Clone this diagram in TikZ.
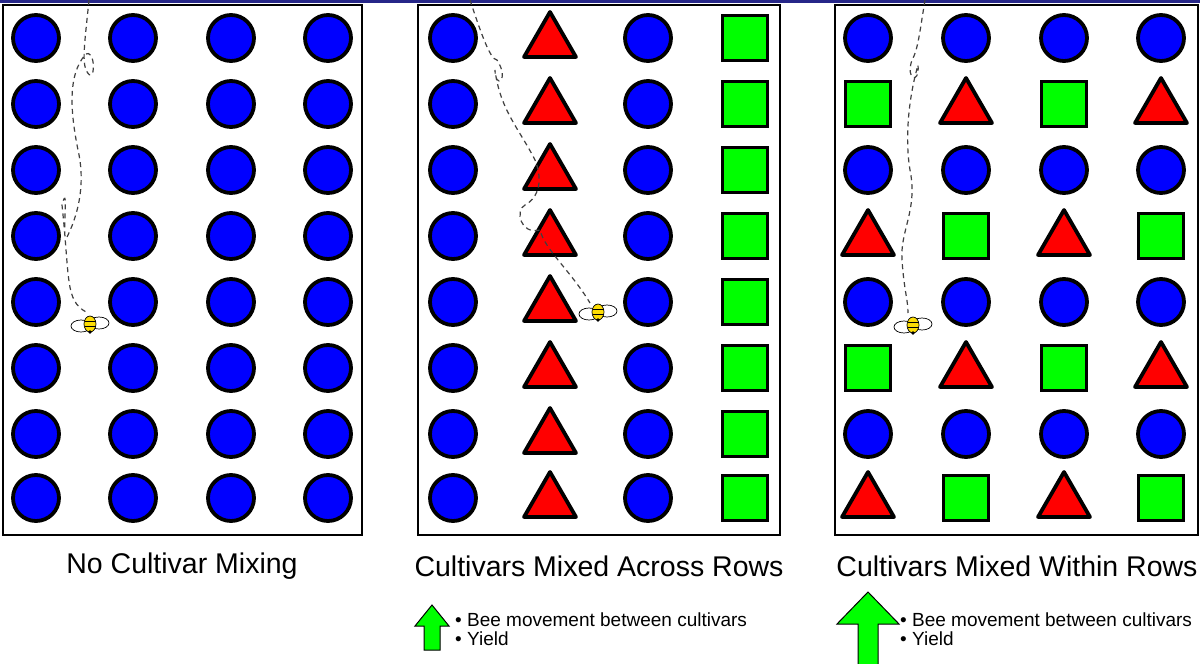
\documentclass[tikz,border=0pt]{standalone}
\usepackage{fontspec}
\setmainfont{Liberation Sans}
\usetikzlibrary{shapes.geometric}
\begin{document}
\begin{tikzpicture}[x=1pt,y=-1pt,
  panel/.style={draw=black,line width=1.5pt,fill=white},
  circ/.style={circle,draw=black,line width=3.8pt,fill=blue,minimum size=46pt,inner sep=0pt},
  tri/.style={regular polygon,regular polygon sides=3,draw=black,line width=3.8pt,fill=red,minimum size=60pt,inner sep=0pt,line join=round},
  sq/.style={rectangle,draw=black,line width=3.8pt,fill=green,minimum size=45pt,inner sep=0pt},
  path/.style={draw=black!75,line width=1.2pt,dash pattern=on 5pt off 4pt},
  title/.style={font=\fontsize{28.5}{30}\selectfont,inner sep=0pt},
  bul/.style={font=\fontsize{19}{19}\selectfont,align=left,anchor=west,inner sep=0pt},
  up/.style={fill=green,draw=black,line width=1pt}]
\useasboundingbox (0,0) rectangle (1200,664);
\fill[white] (0,0) rectangle (1200,664);
\fill[blue!45!black!85] (0,0) rectangle (1200,3);
\draw[panel] (3,5) rectangle (362,535);
\draw[panel] (418,5) rectangle (780,535);
\draw[panel] (835,5) rectangle (1198,535);
% panel 1
\foreach \c [count=\i] in {36,133,231,328}
  \foreach \r [count=\j] in {38,104,170,236,302,368,434,498}
    \node[circ] (a\i\j) at (\c,\r) {};
% panel 2
\foreach \r [count=\j] in {38,104,170,236,302,368,434,498}{
  \node[circ] (b1\j) at (453,\r) {};
  \node[tri]  (b2\j) at (550,\r+4) {};
  \node[circ] (b3\j) at (648,\r) {};
  \node[sq]   (b4\j) at (745,\r) {};
}
% panel 3
\foreach \r [count=\j] in {38,170,302,434}
  \foreach \c [count=\i] in {868,966,1064,1161}
    \node[circ] (c\i\j) at (\c,\r) {};
\foreach \r [count=\j] in {104,368}{
  \node[sq] (d1\j) at (868,\r) {};
  \node[tri] (d2\j) at (966,\r+4) {};
  \node[sq] (d3\j) at (1064,\r) {};
  \node[tri] (d4\j) at (1161,\r+4) {};
}
\foreach \r [count=\j] in {236,498}{
  \node[tri] (e1\j) at (868,\r+4) {};
  \node[sq] (e2\j) at (966,\r) {};
  \node[tri] (e3\j) at (1064,\r+4) {};
  \node[sq] (e4\j) at (1161,\r) {};
}
% bees
\tikzset{bee/.pic={
  \draw[black,line width=0.7pt,fill=white] (-9,2) ellipse (10pt and 6pt);
  \draw[black,line width=0.7pt,fill=white] (9,-1) ellipse (10pt and 6pt);
  \draw[black,line width=0.7pt,fill=yellow!80!orange] (0,0) ellipse (6pt and 8pt);
  \draw[line width=1.2pt] (-5.5,-2.5) -- (5.5,-2.5) (-5.5,2.5) -- (5.5,2.5);
  \fill (0,8) circle (1.8pt);}}
\coordinate (s1) at (89,0); \coordinate (t1) at (86,312);
\draw[path] (s1) .. controls (85,40) and (82,60) .. (86,70) .. controls (96,90) and (96,45) .. (85,55)
  .. controls (68,75) and (70,110) .. (78,150) .. controls (85,180) and (80,210) .. (68,235)
  .. controls (60,255) and (70,175) .. (62,205) .. controls (70,280) and (65,300) .. (t1);
\pic at (90,324) {bee};
\coordinate (s2) at (470,0); \coordinate (t2) at (590,303);
\draw[path] (s2) .. controls (480,30) and (490,60) .. (497,60) .. controls (510,80) and (495,90) .. (495,70)
  .. controls (500,110) and (520,130) .. (535,160) .. controls (545,185) and (535,200) .. (525,205)
  .. controls (515,210) and (520,235) .. (540,230) .. controls (545,250) and (570,270) .. (t2);
\pic at (598,312) {bee};
\coordinate (s3) at (925,0); \coordinate (t3) at (908,313);
\draw[path] (s3) .. controls (920,30) and (918,50) .. (912,60) .. controls (905,80) and (920,85) .. (918,65)
  .. controls (908,100) and (905,140) .. (910,170) .. controls (918,210) and (900,230) .. (902,260)
  .. controls (904,290) and (908,300) .. (t3);
\pic at (913,325) {bee};
% titles
\node[title] (t1n) at (182,566) {No Cultivar Mixing};
\node[title] (t2n) at (599,566) {Cultivars Mixed Across Rows};
\node[title] (t3n) at (1017,566) {Cultivars Mixed Within Rows};
% arrows
\draw[up] (424,650) -- (424,626) -- (415,626) -- (432,605) -- (449,626) -- (440,626) -- (440,650) -- cycle;
\draw[up] (858,664) -- (858,624) -- (837,624) -- (868,592) -- (899,624) -- (878,624) -- (878,664);
\node[bul] (l2) at (455,629) {• Bee movement between cultivars\\• Yield};
\node[bul] (l3) at (900,629) {• Bee movement between cultivars\\• Yield};
\end{tikzpicture}
\end{document}
